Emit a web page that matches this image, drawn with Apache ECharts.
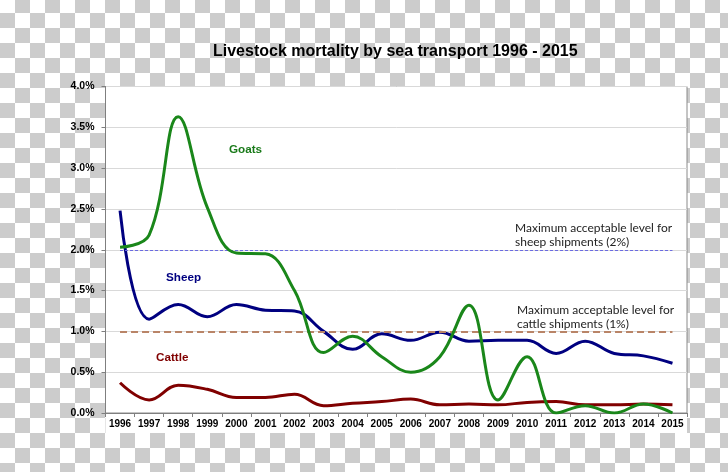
<!DOCTYPE html>
<html>
<head>
<meta charset="utf-8">
<script src="https://cdn.jsdelivr.net/npm/echarts@6/dist/echarts.min.js"></script>
<style>
html,body{margin:0;padding:0;}
body{width:728px;height:472px;background-color:#fff;
background-image:conic-gradient(#fff 0 25%, #cccccc 0 50%, #fff 0 75%, #cccccc 0);
background-size:30px 30px;background-position:0 13px;}
#c{width:728px;height:472px;}
</style>
</head>
<body>
<div id="c"></div>
<script>
const years = ['1996','1997','1998','1999','2000','2001','2002','2003','2004','2005','2006','2007','2008','2009','2010','2011','2012','2013','2014','2015'];
const goats  = [2.03, 2.18, 3.63, 2.52, 1.96, 1.95, 1.50, 0.74, 0.94, 0.69, 0.50, 0.69, 1.32, 0.16, 0.69, 0.00, 0.09, 0.00, 0.11, 0.00];
const sheep  = [2.48, 1.15, 1.33, 1.18, 1.33, 1.26, 1.25, 1.00, 0.78, 0.97, 0.89, 0.99, 0.88, 0.89, 0.89, 0.73, 0.88, 0.73, 0.70, 0.61];
const cattle = [0.37, 0.16, 0.34, 0.29, 0.19, 0.19, 0.23, 0.09, 0.12, 0.14, 0.17, 0.10, 0.11, 0.10, 0.13, 0.14, 0.10, 0.10, 0.11, 0.10];
const sheepLimit = 2.0;
const cattleLimit = 1.0;
const yTicks = [0, 0.5, 1.0, 1.5, 2.0, 2.5, 3.0, 3.5, 4.0];
const titleText = 'Livestock mortality by sea transport 1996 - 2015';
const sheepNote = ['Maximum acceptable level for', 'sheep shipments (2%)'];
const cattleNote = ['Maximum acceptable level for', 'cattle shipments (1%)'];

const chart = echarts.init(document.getElementById('c'), null, {renderer:'canvas'});
const AR = "'Liberation Sans', Arial, sans-serif";

function limitLine(v, color, width, dash) {
  return {
    symbol: ['none','none'], silent: true, label: {show:false},
    lineStyle: {color: color, width: width, type: dash},
    data: [[{coord:[years[0], v]}, {coord:[years[years.length-1], v]}]]
  };
}

const G = {left: 105.5, right: 41, top: 86.5, bottom: 59};

chart.setOption({
  animation: false,
  backgroundColor: 'transparent',
  title: {
    text: titleText, left: 208, top: 39,
    textStyle: {fontFamily: AR, fontWeight: 'bold', fontSize: 16, color: '#000'}
  },
  grid: {left: G.left, right: G.right, top: G.top, bottom: G.bottom, show: true, backgroundColor: '#fff', borderColor: '#8a8a8a', borderWidth: 1},
  xAxis: {
    type: 'category', data: years, boundaryGap: true,
    axisLine: {lineStyle: {color: '#7f7f7f', width: 1}},
    axisTick: {show: true, length: 4, lineStyle: {color: '#7f7f7f'}},
    axisLabel: {color: '#000', fontFamily: AR, fontWeight: 'bold', fontSize: 10, margin: 6, interval: 0}
  },
  yAxis: {
    type: 'value', min: yTicks[0], max: yTicks[yTicks.length-1], interval: 0.5,
    axisLine: {show: true, lineStyle: {color: '#7f7f7f', width: 1}},
    axisTick: {show: true, length: 4, inside: false, lineStyle: {color: '#7f7f7f'}},
    splitLine: {show: true, lineStyle: {color: '#d9d9d9', width: 1}},
    axisLabel: {color: '#000', fontFamily: AR, fontWeight: 'bold', fontSize: 10.5, margin: 11,
      formatter: v => v.toFixed(1) + '%'}
  },
  series: [
    {name: 'Cattle', type: 'line', data: cattle, smooth: 0.4, showSymbol: false, symbol: 'none',
     lineStyle: {color: '#800000', width: 3}, z: 3,
     markLine: limitLine(cattleLimit, '#b98467', 2, [7, 4])},
    {name: 'Sheep', type: 'line', data: sheep, smooth: 0.4, showSymbol: false, symbol: 'none',
     lineStyle: {color: '#000080', width: 3}, z: 4,
     markLine: limitLine(sheepLimit, '#6a6ae0', 1, [3, 2])},
    {name: 'Goats', type: 'line', data: goats, smooth: 0.4, showSymbol: false, symbol: 'none',
     lineStyle: {color: '#1a871a', width: 3}, z: 5}
  ],
  graphic: [
    {type:'rect', left: G.left, top: 472 - G.bottom, z: -1, silent: true,
     shape:{width: 728 - G.left - G.right, height: 20}, style:{fill:'#fff'}},
    {type:'text', left: 229, top: 144, style:{text:'Goats', fill:'#1a7a1a', font:"bold 11.7px 'Liberation Sans', Arial, sans-serif"}},
    {type:'text', left: 166, top: 272, style:{text:'Sheep', fill:'#000080', font:"bold 11.7px 'Liberation Sans', Arial, sans-serif"}},
    {type:'text', left: 156, top: 352, style:{text:'Cattle', fill:'#800000', font:"bold 11.7px 'Liberation Sans', Arial, sans-serif"}},
    {type:'text', left: 515, top: 221, style:{text: sheepNote.join('\n'), fill:'#222', font:"12px Lato, 'Open Sans', sans-serif", lineHeight: 14}},
    {type:'text', left: 517, top: 303, style:{text: cattleNote.join('\n'), fill:'#222', font:"12px Lato, 'Open Sans', sans-serif", lineHeight: 14}}
  ]
});
</script>
</body>
</html>
